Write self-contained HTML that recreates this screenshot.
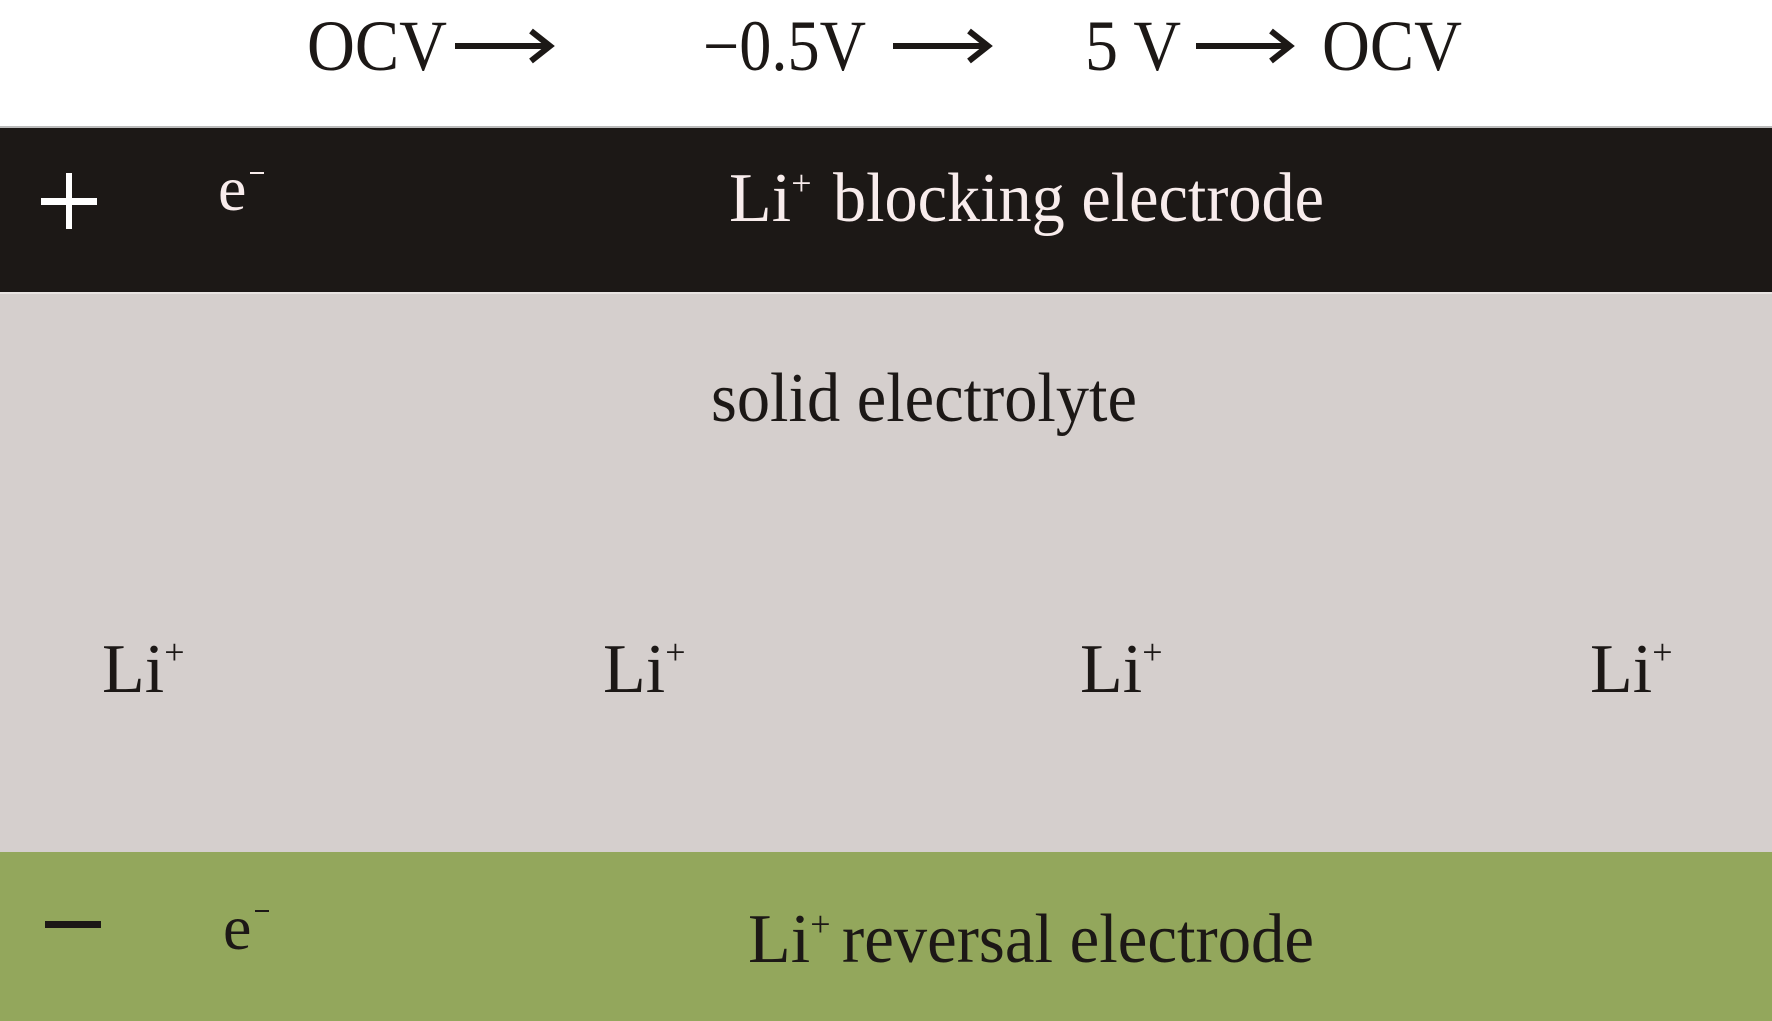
<!DOCTYPE html>
<html><head><meta charset="utf-8"><style>
html,body{margin:0;padding:0;background:#fff;}
svg{display:block;}
</style></head><body>
<svg width="1772" height="1021" viewBox="0 0 1772 1021" xmlns="http://www.w3.org/2000/svg" font-family="Liberation Serif, serif">
<rect x="0" y="0" width="1772" height="1021" fill="#fff"/>
<rect x="0" y="126" width="1772" height="2" fill="#bbb"/>
<rect x="0" y="128" width="1772" height="164" fill="#1c1816"/>
<rect x="0" y="292" width="1772" height="2" fill="#e8e4e2"/>
<rect x="0" y="294" width="1772" height="558" fill="#d5cfcd"/>
<rect x="0" y="852" width="1772" height="169" fill="#93a75c"/>

<g fill="#1c1816" font-size="72">
<text x="307" y="70" textLength="140" lengthAdjust="spacingAndGlyphs">OCV</text>
<text x="703" y="70" textLength="163" lengthAdjust="spacingAndGlyphs">−0.5V</text>
<text x="1085" y="70" textLength="96" lengthAdjust="spacingAndGlyphs">5 V</text>
<text x="1322" y="70" textLength="140" lengthAdjust="spacingAndGlyphs">OCV</text>
</g>
<g stroke="#1c1816" stroke-width="6" fill="none">
<line x1="455" y1="46" x2="546" y2="46"/><polyline points="531,31 550,46 531,61"/>
<line x1="893" y1="46" x2="984" y2="46"/><polyline points="969,31 988,46 969,61"/>
<line x1="1196" y1="46" x2="1286" y2="46"/><polyline points="1271,31 1290,46 1271,61"/>
</g>

<rect x="41" y="198" width="56" height="7" fill="#fff"/>
<rect x="66" y="173" width="6" height="56" fill="#fff"/>
<text x="218" y="210" font-size="64" fill="#f8ecec">e</text>
<rect x="250" y="172" width="14" height="2" fill="#f8ecec"/>
<text x="729" y="221" font-size="70" fill="#f8ecec">Li<tspan font-size="36" dy="-26">+</tspan></text>
<text x="833" y="221" font-size="70" fill="#f8ecec" textLength="491" lengthAdjust="spacingAndGlyphs">blocking electrode</text>

<text x="711" y="421" font-size="70" fill="#1c1816" textLength="426" lengthAdjust="spacingAndGlyphs">solid electrolyte</text>

<g font-size="70" fill="#1c1816">
<text x="102" y="692">Li<tspan font-size="36" dy="-28">+</tspan></text>
<text x="603" y="692">Li<tspan font-size="36" dy="-28">+</tspan></text>
<text x="1080" y="692">Li<tspan font-size="36" dy="-28">+</tspan></text>
<text x="1590" y="692">Li<tspan font-size="36" dy="-28">+</tspan></text>
</g>

<rect x="45" y="921" width="56" height="7" fill="#1c1816"/>
<text x="223" y="949" font-size="64" fill="#1c1816">e</text>
<rect x="255" y="910" width="14" height="2" fill="#1c1816"/>
<text x="748" y="962" font-size="70" fill="#1c1816">Li<tspan font-size="36" dy="-26">+</tspan></text>
<text x="842" y="962" font-size="70" fill="#1c1816" textLength="472" lengthAdjust="spacingAndGlyphs">reversal electrode</text>
</svg>
</body></html>
